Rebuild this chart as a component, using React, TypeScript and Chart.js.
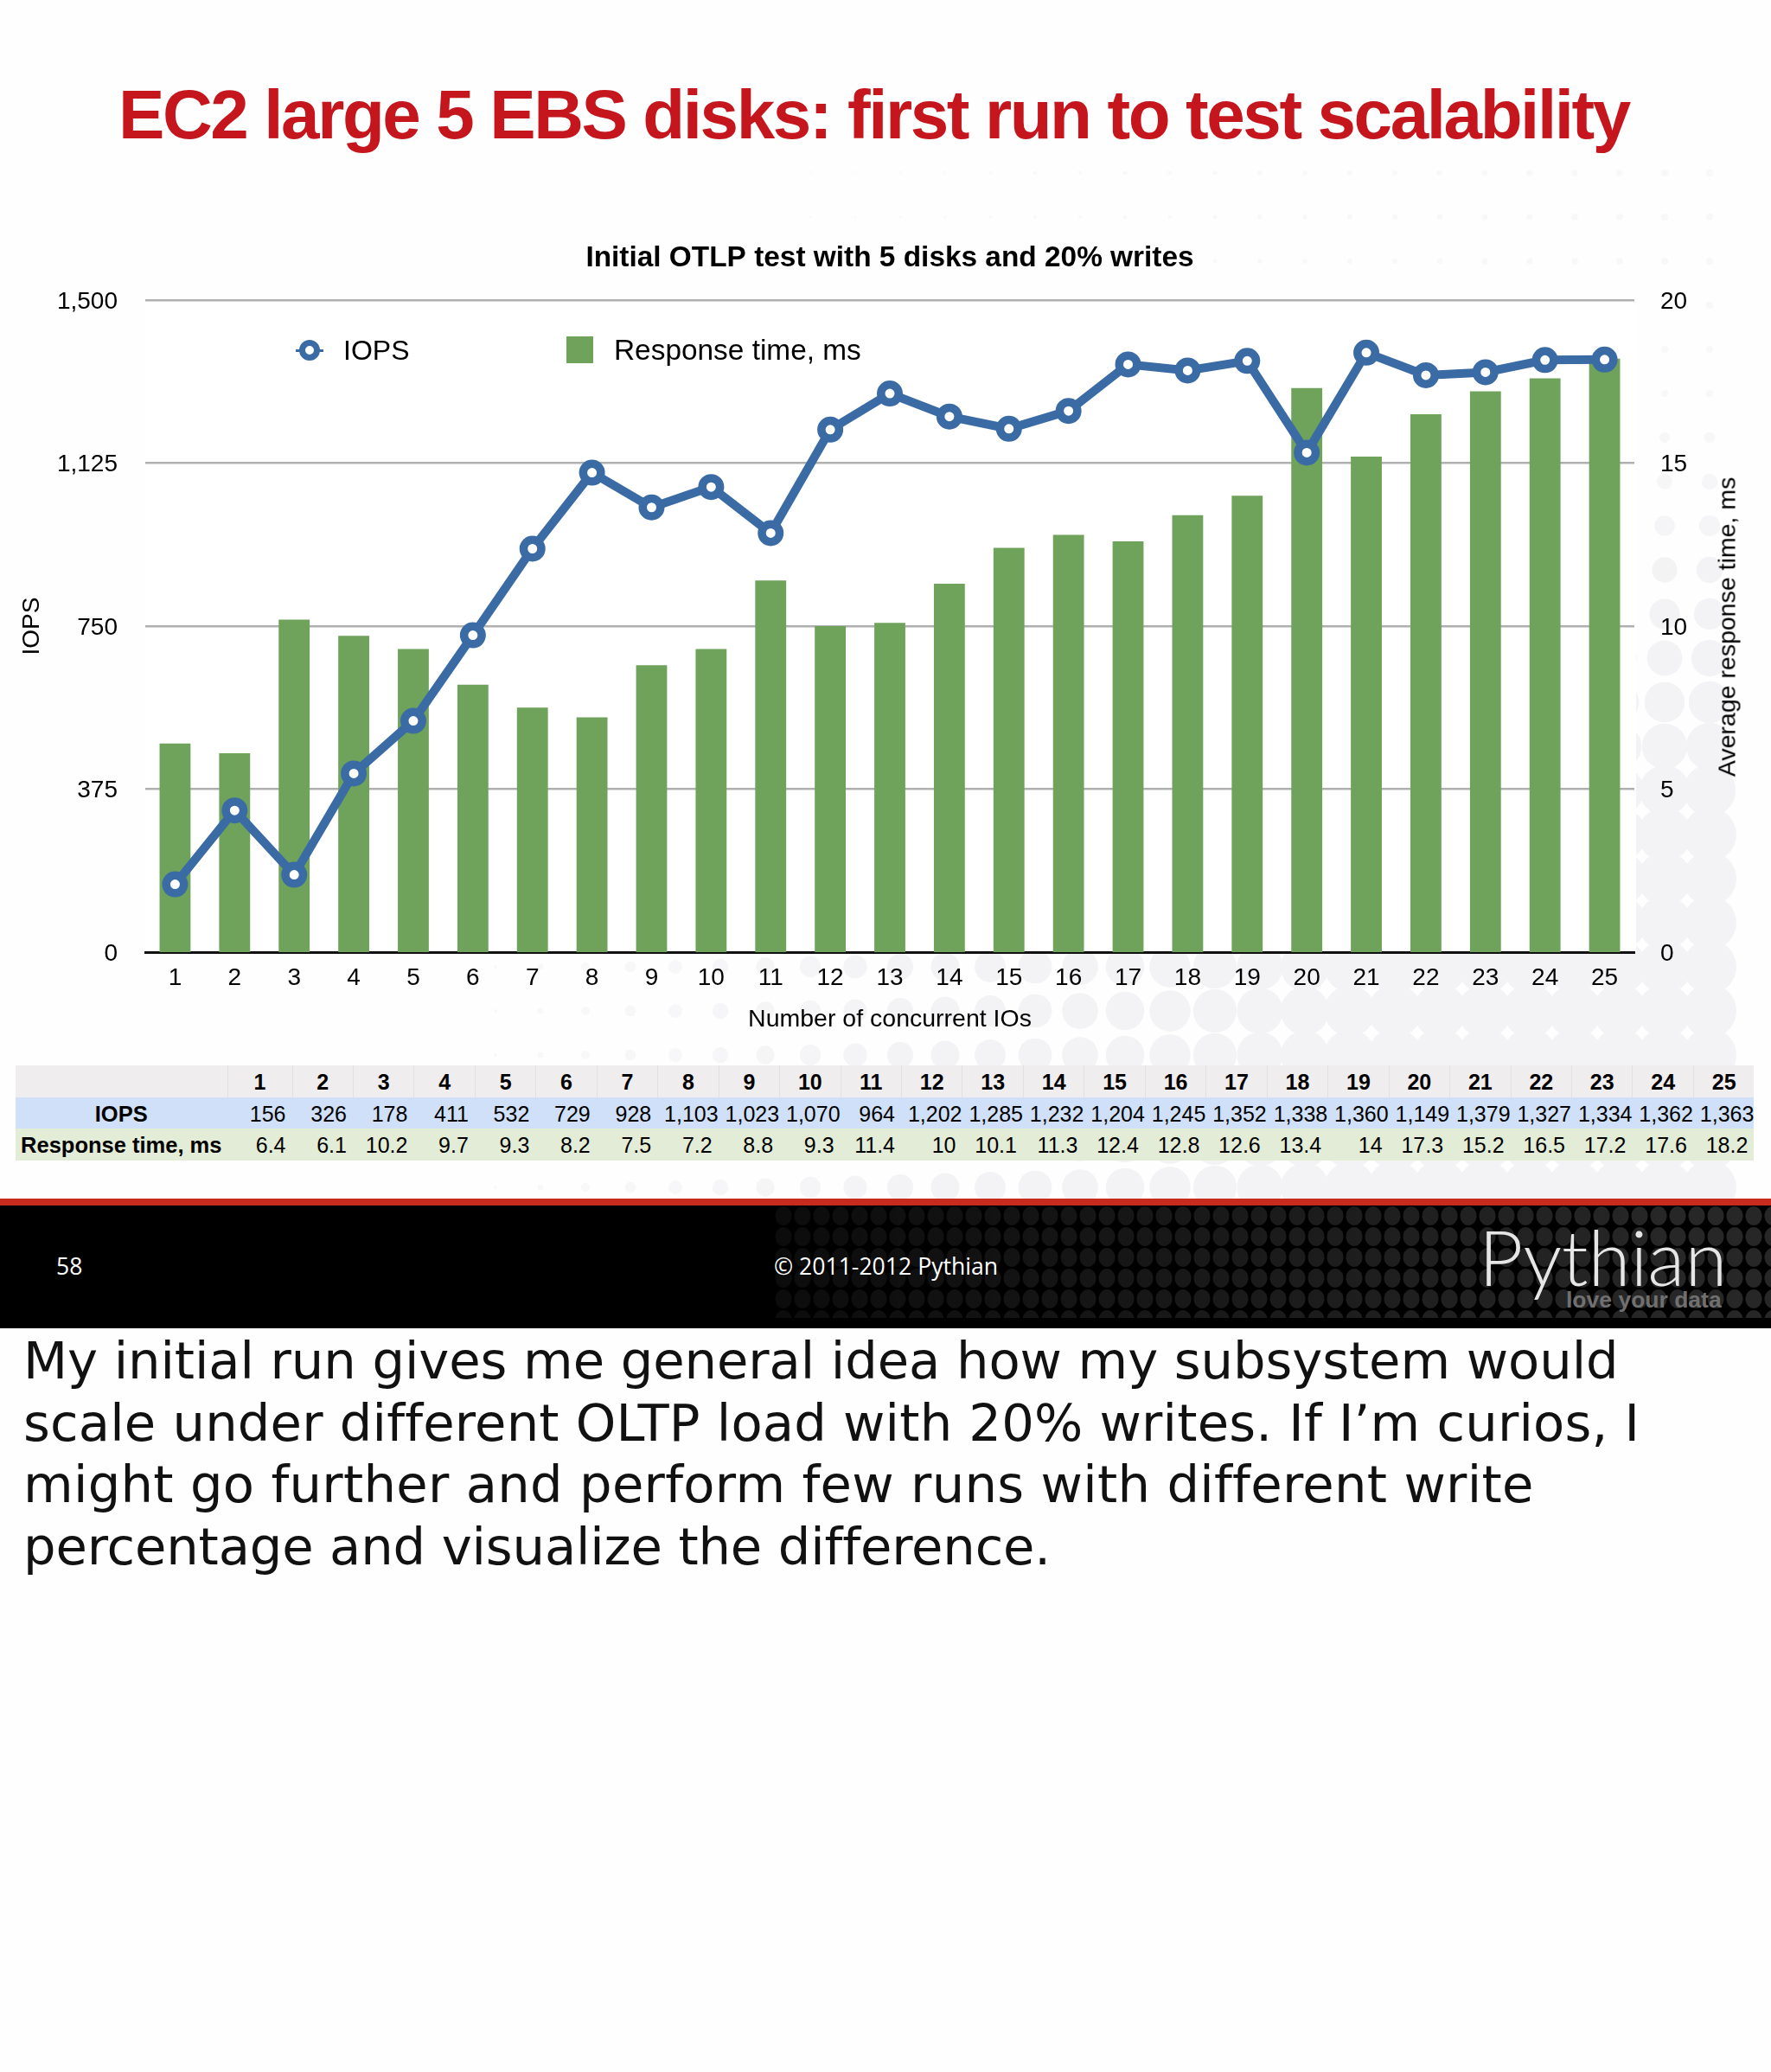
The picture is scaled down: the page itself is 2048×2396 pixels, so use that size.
import { useRef, useEffect } from "react";
import { Chart, registerables } from "chart.js";

Chart.register(...registerables);

const categories = ["1", "2", "3", "4", "5", "6", "7", "8", "9", "10", "11", "12", "13", "14", "15", "16", "17", "18", "19", "20", "21", "22", "23", "24", "25"];
const iopsValues = [156, 326, 178, 411, 532, 729, 928, 1103, 1023, 1070, 964, 1202, 1285, 1232, 1204, 1245, 1352, 1338, 1360, 1149, 1379, 1327, 1334, 1362, 1363];
const responseValues = [6.4, 6.1, 10.2, 9.7, 9.3, 8.2, 7.5, 7.2, 8.8, 9.3, 11.4, 10, 10.1, 11.3, 12.4, 12.8, 12.6, 13.4, 14, 17.3, 15.2, 16.5, 17.2, 17.6, 18.2];
const noteLines = [
  "My initial run gives me general idea how my subsystem would",
  "scale under different OLTP load with 20% writes. If I’m curios, I",
  "might go further and perform few runs with different write",
  "percentage and visualize the difference.",
];
const noteSpacing = [-0.08, 0.19, 0.29, -0.15];

const BLUE = "#3a6ba5";
const GREEN = "#6fa35b";
const SANS = "'Liberation Sans', Arial, sans-serif";

// faint dots behind the slide, they grow toward the lower right
const dots: { x: number; y: number; r: number }[] = [];
for (let y = 200; y < 1386; y += 51) {
  for (let x = 1977; x > 500; x -= 52) {
    const yf = Math.max(0.1, Math.min(1, (y - 400) / 700));
    const r = Math.min(31, ((x - 500) / 36) * yf);
    if (r > 1) dots.push({ x, y, r });
  }
}

const cell: React.CSSProperties = {
  boxSizing: "border-box",
  height: "100%",
  lineHeight: "38px",
  whiteSpace: "nowrap",
  flex: "none",
};

const TableRow = ({ name, values, bg, bold }: { name: string; values: string[]; bg: string; bold?: boolean }) => (
  <div style={{ display: "flex", height: 36.6, background: bg }}>
    <div style={{ ...cell, width: 244.5, textAlign: "center", fontWeight: 700, fontSize: 25.5 }}>{name}</div>
    {values.map((v, i) => (
      <div
        key={i}
        style={{
          ...cell,
          width: i === 0 ? 75 : 70.46,
          fontWeight: bold ? 700 : 400,
          textAlign: bold ? "center" : "right",
          paddingRight: bold || v.includes(",") ? 0 : 7,
          borderLeft: bold ? "1px solid #e2e0e1" : "none",
        }}
      >
        {v}
      </div>
    ))}
  </div>
);

export default function App() {
  const chartRef = useRef<HTMLCanvasElement>(null);

  useEffect(() => {
    if (!chartRef.current) return;
    const chart = new Chart(chartRef.current, {
      type: "bar",
      data: {
        labels: categories,
        datasets: [
          {
            type: "line",
            label: "IOPS",
            data: iopsValues,
            yAxisID: "y",
            order: 0,
            borderColor: BLUE,
            borderWidth: 10,
            tension: 0,
            pointRadius: 10.25,
            pointBorderWidth: 9.5,
            pointBorderColor: BLUE,
            pointBackgroundColor: "#ffffff",
          },
          {
            type: "bar",
            label: "Response time, ms",
            data: responseValues,
            yAxisID: "y2",
            order: 1,
            backgroundColor: GREEN,
            barPercentage: 0.52,
            categoryPercentage: 1,
          },
        ],
      },
      options: {
        responsive: false,
        animation: false,
        devicePixelRatio: 1,
        layout: { padding: 0 },
        plugins: {
          legend: { display: false },
          tooltip: { enabled: false },
          title: {
            display: true,
            text: "Initial OTLP test with 5 disks and 20% writes",
            color: "#000",
            fullSize: false,
            font: { family: SANS, size: 33.4, weight: "bold", lineHeight: 1.2 },
            padding: { top: 278, bottom: 27.9 },
          },
        },
        scales: {
          x: {
            afterFit: (s) => {
              s.height = 130;
            },
            grid: { display: false, drawTicks: false },
            border: { display: true, color: "#111", width: 3 },
            ticks: { color: "#000", padding: 13, maxRotation: 0, autoSkip: false, font: { family: SANS, size: 28 } },
            title: {
              display: true,
              text: "Number of concurrent IOs",
              color: "#000",
              font: { family: SANS, size: 28.5, lineHeight: 1.2 },
              padding: { top: 0, bottom: 35 },
            },
          },
          y: {
            position: "left",
            min: 0,
            max: 1500,
            afterFit: (s) => {
              s.width = 168;
            },
            grid: {
              drawTicks: false,
              lineWidth: 2.5,
              color: (c) => (c.tick.value === 0 ? "rgba(0,0,0,0)" : "#b0b0b0"),
            },
            border: { display: false },
            ticks: {
              stepSize: 375,
              color: "#000",
              padding: 32,
              labelOffset: 2,
              font: { family: SANS, size: 28 },
              callback: (v) => Number(v).toLocaleString("en-US"),
            },
            title: {
              display: true,
              text: "IOPS",
              color: "#000",
              font: { family: SANS, size: 28, lineHeight: 1.2 },
              padding: { top: 20, bottom: 0 },
            },
          },
          y2: {
            position: "right",
            min: 0,
            max: 20,
            afterFit: (s) => {
              s.width = 158;
            },
            grid: { display: false, drawTicks: false },
            border: { display: false },
            ticks: { stepSize: 5, color: "#000", padding: 30, labelOffset: 2, font: { family: SANS, size: 28 } },
          },
        },
      },
    });
    return () => chart.destroy();
  }, []);

  return (
    <div style={{ position: "absolute", left: 0, top: 0, width: 2048, height: 2396, overflow: "hidden", background: "#fefefe" }}>
      <svg width={2048} height={1386} style={{ position: "absolute", left: 0, top: 0 }}>
        {dots.map((d, i) => (
          <circle key={i} cx={d.x} cy={d.y} r={d.r} fill="#f3f2f4" fillOpacity={Math.min(1, 0.35 + d.r / 24)} />
        ))}
      </svg>
      <div style={{ position: "absolute", left: 168, top: 347, width: 1724, height: 754, background: "#fff" }} />
      <div
        style={{
          position: "absolute",
          left: 137,
          top: 85,
          whiteSpace: "nowrap",
          color: "#c4161c",
          fontFamily: SANS,
          fontWeight: 700,
          fontSize: 80,
          letterSpacing: -2.4,
          lineHeight: "96px",
        }}
      >
        EC2 large 5 EBS disks: first run to test scalability
      </div>

      <canvas ref={chartRef} width={2048} height={1230} style={{ position: "absolute", left: 0, top: 1 }} />

      {/* chart.js always turns a right axis title clockwise, this one reads upward */}
      <div
        style={{
          position: "absolute",
          left: 1997,
          top: 725,
          transform: "translate(-50%, -50%) rotate(-90deg)",
          fontFamily: SANS,
          fontSize: 28.5,
          color: "#000",
          whiteSpace: "nowrap",
        }}
      >
        Average response time, ms
      </div>

      {/* legend sits inside the plot */}
      <div style={{ position: "absolute", left: 342, top: 404, width: 32, height: 3, background: BLUE }} />
      <div
        style={{
          position: "absolute",
          left: 346,
          top: 393,
          width: 24,
          height: 24,
          boxSizing: "border-box",
          border: `7px solid ${BLUE}`,
          borderRadius: "50%",
          background: "#fff",
        }}
      />
      <div style={{ position: "absolute", left: 397, top: 385, fontFamily: SANS, fontSize: 32, lineHeight: "40px", color: "#000" }}>IOPS</div>
      <div style={{ position: "absolute", left: 655, top: 389, width: 31, height: 31, background: GREEN }} />
      <div style={{ position: "absolute", left: 710, top: 385, fontFamily: SANS, fontSize: 33.4, lineHeight: "40px", color: "#000", whiteSpace: "nowrap" }}>
        Response time, ms
      </div>

      <div style={{ position: "absolute", left: 18, top: 1232, width: 2010, height: 110, fontFamily: SANS, fontSize: 25, color: "#000" }}>
        <TableRow name="" values={categories} bg="#efedee" bold />
        <TableRow name="IOPS" values={iopsValues.map((v) => v.toLocaleString("en-US"))} bg="#cfe0f8" />
        <TableRow name="Response time, ms" values={responseValues.map(String)} bg="#e2ecd6" />
      </div>

      <div style={{ position: "absolute", left: 0, top: 1386, width: 2048, height: 8, background: "#c92a1e" }} />
      <div style={{ position: "absolute", left: 0, top: 1394, width: 2048, height: 142, background: "#000" }}>
        <div
          style={{
            position: "absolute",
            left: 895,
            top: 0,
            width: 1153,
            height: 130,
            backgroundImage: "radial-gradient(ellipse 10px 11.5px at center, #272727 90%, rgba(0,0,0,0) 100%)",
            backgroundSize: "22px 24px",
            WebkitMaskImage: "linear-gradient(to right, rgba(0,0,0,0.3), #000 90%)",
          }}
        />
        <div style={{ position: "absolute", left: 65, top: 54, fontFamily: "'Open Sans', sans-serif", fontSize: 26.5, lineHeight: "32px", color: "#fff" }}>58</div>
        <div style={{ position: "absolute", left: 895, top: 54, fontFamily: "'Open Sans', sans-serif", fontSize: 26.6, lineHeight: "32px", color: "#fff", whiteSpace: "nowrap" }}>
          © 2011-2012 Pythian
        </div>
        <div style={{ position: "absolute", left: 1710, top: 4, fontFamily: "Lato, sans-serif", fontWeight: 300, fontSize: 89, lineHeight: "110px", color: "#e6e6e6", whiteSpace: "nowrap" }}>
          Pythian
        </div>
        <div style={{ position: "absolute", left: 1811, top: 92, fontFamily: SANS, fontWeight: 700, fontSize: 26.5, lineHeight: "34px", color: "#707070", whiteSpace: "nowrap" }}>
          love your data
        </div>
      </div>

      <div
        style={{
          position: "absolute",
          left: 27,
          top: 1538,
          fontFamily: "'DejaVu Sans', sans-serif",
          fontSize: 59.2,
          lineHeight: "71.5px",
          color: "#111",
          whiteSpace: "nowrap",
        }}
      >
        {noteLines.map((line, i) => (
          <div key={i} style={{ letterSpacing: noteSpacing[i] }}>
            {line}
          </div>
        ))}
      </div>
    </div>
  );
}
